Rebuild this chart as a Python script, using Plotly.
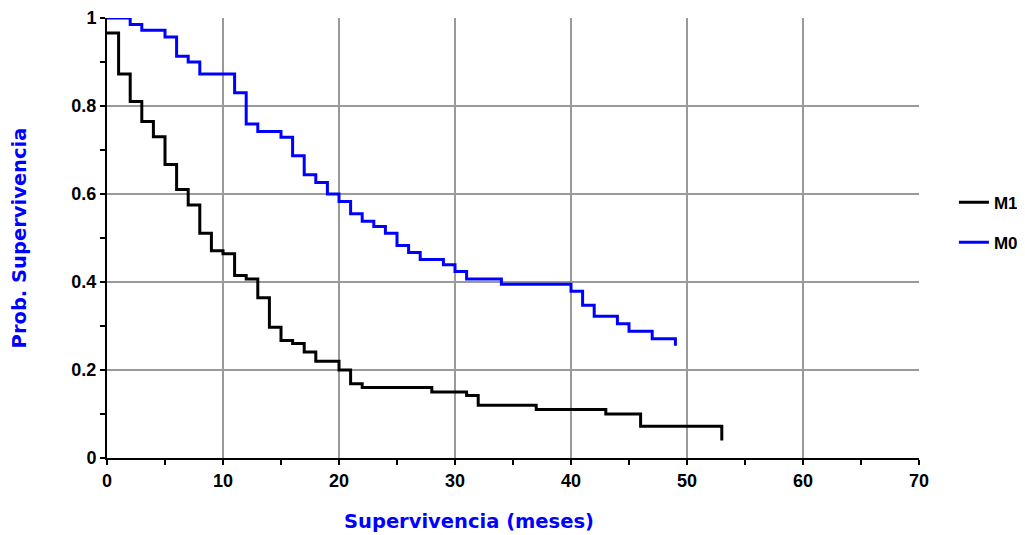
import plotly.graph_objects as go

# Kaplan-Meier steps
m1_time = [0, 1, 2, 3, 4, 5, 6, 7, 8, 9, 10, 11, 12, 13, 14, 15, 16, 17, 18, 20, 21, 22, 28, 31, 32, 37, 43, 46, 53]
m1_surv = [0.966, 0.873, 0.81, 0.765, 0.73, 0.667, 0.61, 0.575, 0.511, 0.471, 0.464, 0.415, 0.407, 0.364,
           0.297, 0.267, 0.26, 0.241, 0.22, 0.2, 0.169, 0.16, 0.15, 0.142, 0.12, 0.11, 0.1, 0.072, 0.04]

m0_time = [0, 2, 3, 5, 6, 7, 8, 11, 12, 13, 15, 16, 17, 18, 19, 20, 21, 22, 23, 24, 25, 26, 27, 29, 30,
           31, 34, 40, 41, 42, 44, 45, 47, 49]
m0_surv = [1.0, 0.985, 0.972, 0.957, 0.913, 0.9, 0.873, 0.83, 0.759, 0.742, 0.729, 0.687, 0.644, 0.626,
           0.6, 0.583, 0.555, 0.538, 0.526, 0.511, 0.483, 0.467, 0.451, 0.439, 0.424, 0.407, 0.395, 0.379,
           0.347, 0.322, 0.305, 0.288, 0.271, 0.255]

x_ticks = [0, 10, 20, 30, 40, 50, 60, 70]
x_minor = [5, 15, 25, 35, 45, 55, 65]
y_ticks = [0, 0.2, 0.4, 0.6, 0.8, 1]
y_minor = [0.1, 0.3, 0.5, 0.7, 0.9]
y_tick_text = ["0", "0.2", "0.4", "0.6", "0.8", "1"]

FONT = "Liberation Sans, Arial, sans-serif"
TFONT = "DejaVu Sans, Verdana, sans-serif"
BLUE = "#0000ff"
GRID = "#9a9a9a"

fig = go.Figure()
fig.add_trace(go.Scatter(x=m1_time, y=m1_surv, mode="lines", name="<b>M1</b>",
                         line=dict(color="black", width=3, shape="hv"), legendgroup="a"))
fig.add_trace(go.Scatter(x=m0_time, y=m0_surv, mode="lines", name="<b>M0</b>",
                         line=dict(color=BLUE, width=3, shape="hv"), legendgroup="b"))

tick_common = dict(ticklen=5, tickwidth=2, tickcolor="black")

fig.update_layout(
    width=1025, height=535,
    margin=dict(l=99, r=114, t=10, b=85),
    paper_bgcolor="white", plot_bgcolor="white",
    font=dict(family=FONT, size=18, color="black"),
    showlegend=True,
    legend=dict(x=1.043, y=0.535, xanchor="left", yanchor="middle",
                font=dict(family=FONT, size=17, color="black"),
                tracegroupgap=15, itemwidth=30, bgcolor="rgba(0,0,0,0)"),
    xaxis=dict(range=[0, 70], tickvals=x_ticks, ticktext=[f"<b>{v}</b>" for v in x_ticks],
               automargin=False,
               showgrid=True, gridcolor=GRID, gridwidth=2, zeroline=False,
               showline=True, linecolor="black", linewidth=2,
               ticks="outside", **tick_common,
               minor=dict(tickvals=x_minor, ticks="outside", showgrid=False, **tick_common),
               tickfont=dict(family=FONT, size=18, color="black")),
    yaxis=dict(range=[0, 1], tickvals=y_ticks, ticktext=[f"<b>{t}</b>" for t in y_tick_text],
               automargin=False,
               showgrid=True, gridcolor=GRID, gridwidth=2, zeroline=False,
               showline=True, linecolor="black", linewidth=2,
               ticks="outside", **tick_common,
               minor=dict(tickvals=y_minor, ticks="outside", showgrid=False, **tick_common),
               tickfont=dict(family=FONT, size=18, color="black"),
               title=dict(text="<b>Prob. Supervivencia</b>", standoff=41,
                          font=dict(family=TFONT, size=19.5, color=BLUE))),
    # overlay axes only to draw the inner half of the crossing tick marks
    xaxis2=dict(overlaying="x", anchor="y", side="bottom", range=[0, 70], tickvals=x_ticks,
                showticklabels=False, showgrid=False, zeroline=False, showline=False,
                ticks="inside", **tick_common,
                minor=dict(tickvals=x_minor, ticks="inside", showgrid=False, **tick_common)),
    yaxis2=dict(overlaying="y", anchor="x", side="left", range=[0, 1], tickvals=y_ticks,
                showticklabels=False, showgrid=False, zeroline=False, showline=False,
                ticks="inside", **tick_common,
                minor=dict(tickvals=y_minor, ticks="inside", showgrid=False, **tick_common)),
    annotations=[dict(text="<b>Supervivencia (meses)</b>", xref="paper", yref="paper",
                      x=(469 - 107) / (919 - 107), y=-(521 - 458) / 440, xanchor="center",
                      yanchor="middle", showarrow=False,
                      font=dict(family=TFONT, size=19.5, color=BLUE))],
)

fig.write_html("out.html")
